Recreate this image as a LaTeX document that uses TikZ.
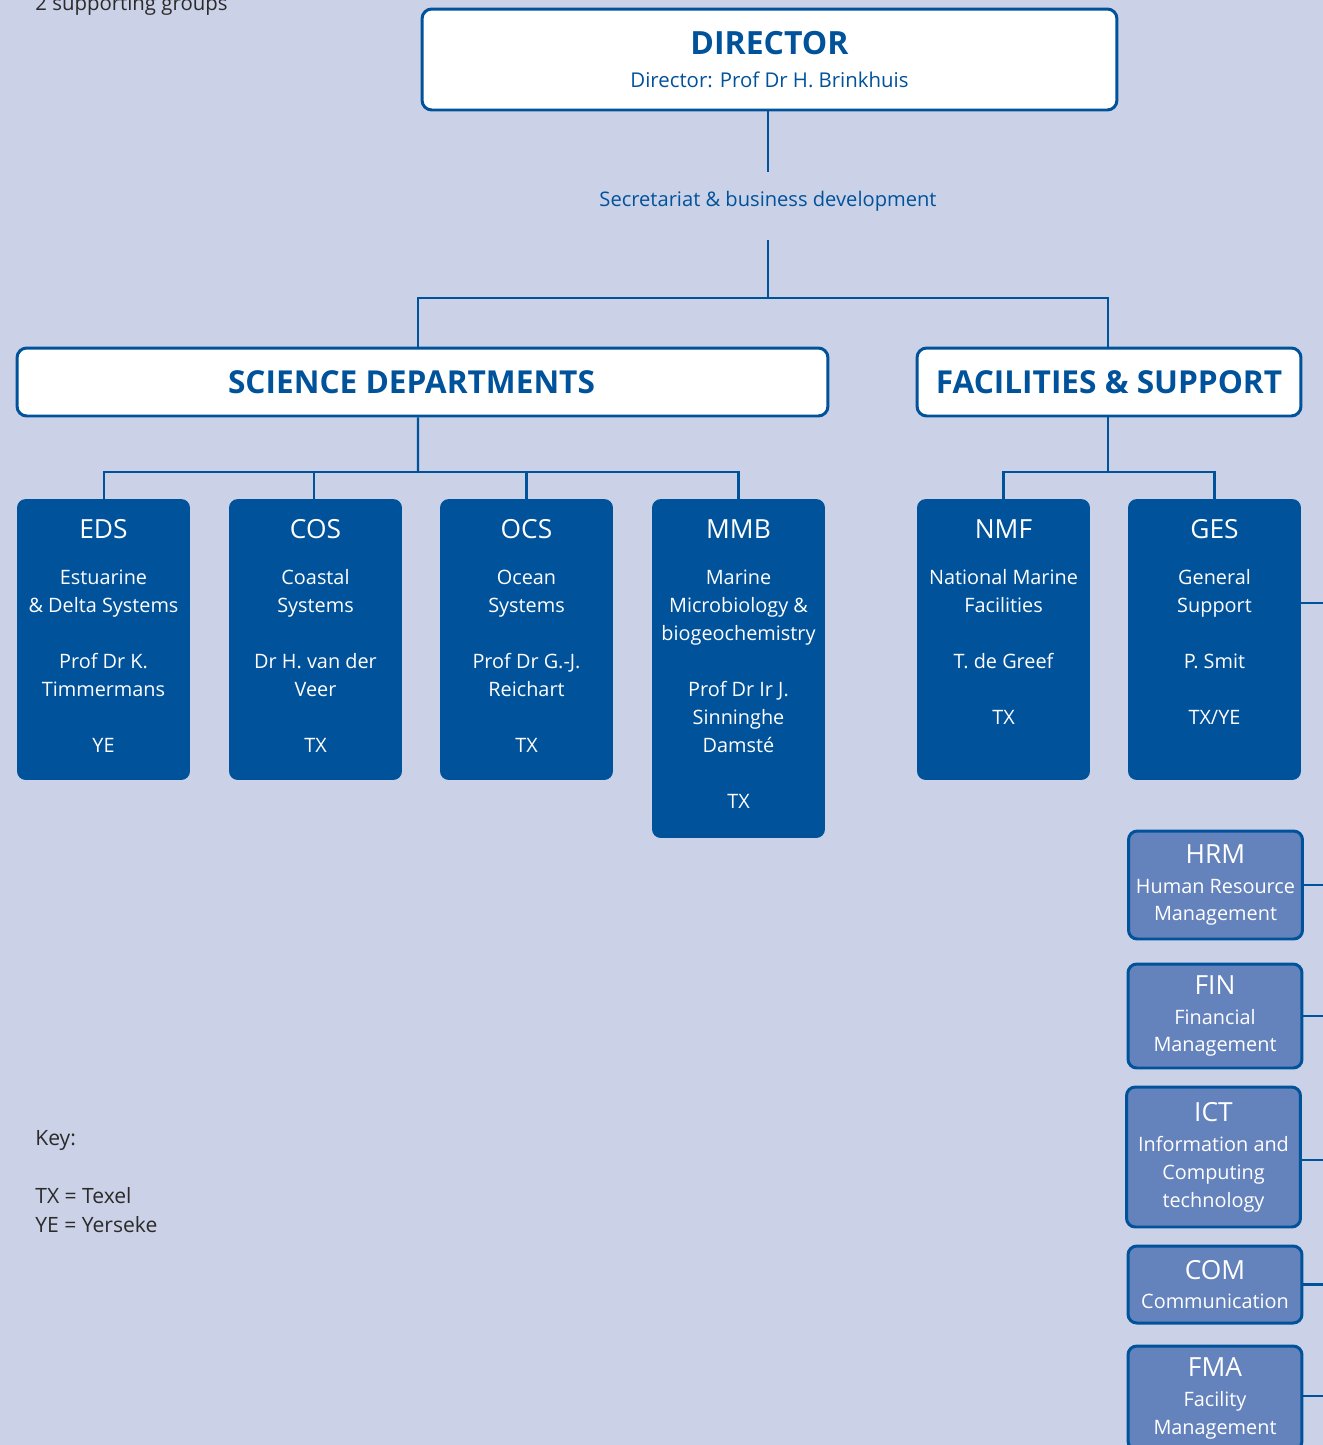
\documentclass[tikz,border=0pt]{standalone}
\usepackage{fontspec}
\setmainfont{Open Sans}
\definecolor{bgc}{HTML}{CBD1E6}
\definecolor{nioz}{HTML}{00529B}
\definecolor{lightb}{HTML}{6482BC}
\definecolor{keygray}{HTML}{2B2B2B}
\newcommand{\bodyf}{\fontsize{11.3pt}{15.93pt}\selectfont}
\newcommand{\titf}{\fontsize{15pt}{15.93pt}\selectfont}
\begin{document}
\begin{tikzpicture}[x=0.02cm, y=-0.02cm,
  wbox/.style={draw=nioz, line width=1.7pt, fill=white, rounded corners=5.5pt, inner sep=0pt, text=nioz, align=center},
  dbox/.style={fill=nioz, rounded corners=5pt, inner sep=0pt, minimum width=3.46cm},
  dtext/.style={text=white, align=center, inner sep=0pt, anchor=north, yshift=-0.41cm, font=\bodyf},
  lbox/.style={draw=nioz, line width=1.7pt, fill=lightb, rounded corners=5pt, text=white, align=center, inner sep=0pt, minimum width=3.48cm, font=\bodyf},
  conn/.style={draw=nioz, line width=1.4pt},
  keytxt/.style={text=keygray, anchor=west, inner sep=0pt, font=\fontsize{12pt}{14pt}\selectfont}
]
\useasboundingbox (0,0) rectangle (1323,1445);
\fill[bgc] (0,0) rectangle (1323,1445);

% director
\node[wbox, minimum width=13.9cm, minimum height=2.02cm, font=\fontsize{11.6pt}{18.7pt}\selectfont] (dir) at (769.5,59.5)
  {{\bfseries\fontsize{18.2pt}{18.7pt}\selectfont DIRECTOR}\\ Director: Prof Dr H. Brinkhuis};
\node[text=nioz, inner sep=0pt, font=\fontsize{11.45pt}{13pt}\selectfont] (secr) at (768,201) {Secretariat \& business development};
\coordinate (s1) at (768,172);
\coordinate (s2) at (768,240);
\coordinate (tb) at (768,298);

% level 2
\node[wbox, minimum width=16.22cm, minimum height=1.36cm, font=\bfseries\fontsize{18pt}{20pt}\selectfont] (sci) at (422.5,382)
  {SCIENCE DEPARTMENTS\hspace*{12.5pt}};
\node[wbox, minimum width=7.68cm, minimum height=1.36cm, font=\bfseries\fontsize{18pt}{20pt}\selectfont] (fac) at (1109,382)
  {FACILITIES \& SUPPORT};
\coordinate (sb) at (418,472);
\coordinate (fb) at (1108,472);

% departments
\node[dbox, minimum height=5.62cm] (eds) at (103.5,639.5) {};
\node[dtext] (edsT) at (eds.north)
  {{\titf EDS}\\[10.3pt] Estuarine\\ \& Delta Systems\\[15.93pt] Prof Dr K.\\ Timmermans\\[15.93pt] YE};
\node[dbox, minimum height=5.62cm] (cos) at (315.5,639.5) {};
\node[dtext] (cosT) at (cos.north)
  {{\titf COS}\\[10.3pt] Coastal\\ Systems\\[15.93pt] Dr H. van der\\ Veer\\[15.93pt] TX};
\node[dbox, minimum height=5.62cm] (ocs) at (526.5,639.5) {};
\node[dtext] (ocsT) at (ocs.north)
  {{\titf OCS}\\[10.3pt] Ocean\\ Systems\\[15.93pt] Prof Dr G.-J.\\ Reichart\\[15.93pt] TX};
\node[dbox, minimum height=6.78cm] (mmb) at (738.5,668.5) {};
\node[dtext] (mmbT) at (mmb.north)
  {{\titf MMB}\\[10.3pt] Marine\\ Microbiology \&\\ biogeochemistry\\[15.93pt] Prof Dr Ir J.\\ Sinninghe\\ Damst\'e\\[15.93pt] TX};
\node[dbox, minimum height=5.62cm] (nmf) at (1003.5,639.5) {};
\node[dtext] (nmfT) at (nmf.north)
  {{\titf NMF}\\[10.3pt] National Marine\\ Facilities\\[15.93pt] T. de Greef\\[15.93pt] TX};
\node[dbox, minimum height=5.62cm] (ges) at (1214.5,639.5) {};
\node[dtext] (gesT) at (ges.north)
  {{\titf GES}\\[10.3pt] General\\ Support\\[15.93pt] P. Smit\\[15.93pt] TX/YE};

% supporting groups
\node[lbox, minimum height=2.16cm] (hrm) at (1215.5,885)
  {{\titf HRM}\\[1.1pt] Human Resource\\ Management};
\node[lbox, minimum height=2.08cm] (fin) at (1215,1016)
  {{\titf FIN}\\[1.1pt] Financial\\ Management};
\node[lbox, minimum height=2.8cm] (ict) at (1213.5,1157)
  {{\titf ICT}\\[1.1pt] Information and\\ Computing\\ technology};
\node[lbox, minimum height=1.54cm] (com) at (1215,1284.5)
  {{\titf COM}\\[1.1pt] Communication};
\node[lbox, minimum height=2.08cm] (fma) at (1215,1398)
  {{\titf FMA}\\[1.1pt] Facility\\ Management};

\coordinate (edge) at (1330,0);
\coordinate (gesR) at (1330,603);

% connectors
\draw[conn] (s1 |- dir.south) -- (s1);
\draw[conn] (s2) -- (tb);
\draw[conn] ([xshift=-0.09cm]sci.north) |- (tb) -| ([xshift=-0.02cm]fac.north);
\draw[conn] ([xshift=-0.09cm]sci.south) -- (sb);
\draw[conn] ([xshift=0.01cm]eds.north) |- (sb) -| (mmb.north);
\draw[conn] ([xshift=-0.03cm]cos.north) -- ([xshift=-0.03cm]cos.north |- sb);
\draw[conn] (ocs.north) -- (ocs.north |- sb);
\draw[conn] (fb |- fac.south) -- (fb);
\draw[conn] (nmf.north) |- (fb) -| (ges.north);
\draw[conn] (gesR -| ges.east) -- (gesR);
\draw[conn] (hrm.east) -- (hrm.east -| edge);
\draw[conn] (fin.east) -- (fin.east -| edge);
\draw[conn] ([yshift=-0.06cm]ict.east) -- ([yshift=-0.06cm]ict.east -| edge);
\draw[conn] (com.east) -- (com.east -| edge);
\draw[conn] ([yshift=0.04cm]fma.east) -- ([yshift=0.04cm]fma.east -| edge);

% key
\node[keytxt, font=\fontsize{11.6pt}{14pt}\selectfont] (grp) at (35,5) {2 supporting groups};
\node[keytxt] (key) at (35,1140) {Key:};
\node[keytxt] (ktx) at (35,1196) {TX = Texel};
\node[keytxt] (kye) at (35,1225) {YE = Yerseke};
\end{tikzpicture}
\end{document}
